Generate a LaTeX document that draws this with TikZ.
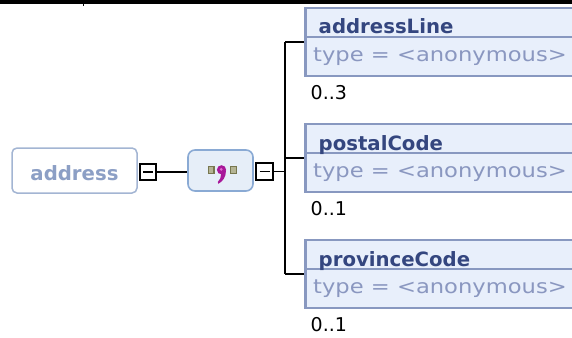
\documentclass[tikz,border=0pt]{standalone}
\usepackage{fontspec}
\setmainfont{DejaVu Sans}
\usepackage{graphicx}
\definecolor{addrborder}{HTML}{A3B5D3}
\definecolor{addrtext}{HTML}{8C9FC5}
\definecolor{seqborder}{HTML}{8AAAD4}
\definecolor{seqfill}{HTML}{E6EEF8}
\definecolor{elemborder}{HTML}{8898C0}
\definecolor{elemfill}{HTML}{E8EFFB}
\definecolor{hdrtext}{HTML}{34467F}
\definecolor{typetext}{HTML}{8A97C0}
\definecolor{olivebd}{HTML}{77774F}
\definecolor{olivefill}{HTML}{B4B494}
\definecolor{seqmag}{HTML}{A8189A}
\definecolor{seqpink}{HTML}{E070D0}
\tikzset{
  conn/.style={draw=black, line width=1.3pt},
  minusbox/.style={draw=black, line width=1.8pt, fill=white, minimum size=16.5pt, inner sep=0pt},
  elembox/.style={draw=elemborder, line width=2.5pt, fill=elemfill, minimum width=290pt, minimum height=68pt, inner sep=0pt, anchor=west},
  divider/.style={draw=elemborder, line width=2pt},
  hdr/.style={font=\fontsize{19.7}{22}\selectfont\bfseries, text=hdrtext, inner sep=0pt, anchor=base west},
  typ/.style={text=typetext, inner sep=0pt, anchor=base west},
  card/.style={font=\fontsize{19}{22}\selectfont, text=black, inner sep=0pt, anchor=base west},
}
\newcommand{\typetxt}{\scalebox{1.16}[1]{\fontsize{19.5}{22}\selectfont type = <anonymous>}}
\begin{document}
\begin{tikzpicture}[x=1pt, y=-1pt]
\useasboundingbox (0,0) rectangle (572,337);
\clip (0,0) rectangle (572,337);
% top bar
\fill[black] (0,0) rectangle (572,4.3);
\draw[black, line width=1pt] (83,3) -- (83,6.5);

% address element
\node[draw=addrborder, line width=1.5pt, rounded corners=5pt, fill=white,
      minimum width=125pt, minimum height=45pt, inner sep=0pt,
      text height=20pt, text depth=0pt,
      font=\fontsize{19.7}{22}\selectfont\bfseries, text=addrtext] (addr) at (74.5,170.5) {address};
\node[minusbox] (m1) at (148,172) {};
\draw[black, line width=1.5pt] ([xshift=-5pt]m1.center) -- ([xshift=5pt]m1.center);

% sequence compositor
\node[draw=seqborder, line width=1.6pt, rounded corners=7pt, fill=seqfill,
      minimum width=65pt, minimum height=41pt, inner sep=0pt] (seq) at (220.5,170.5) {};
\draw[draw=olivebd, fill=olivefill, line width=1.2pt] (208.5,166.5) rectangle (214,173.5);
\draw[draw=olivebd, fill=olivefill, line width=1.2pt] (230.5,166.5) rectangle (236.5,173.5);
\fill[seqmag] (221.5,169.8) circle (4.6);
\fill[seqmag] (226,170.5) .. controls (226,177.5) and (222.5,181.5) .. (218.3,183.8)
   -- (217.8,182) .. controls (220,180) and (221.2,177) .. (221.2,173.5) -- cycle;
\fill[seqpink] (221.2,169.3) circle (1.5);

\node[minusbox] (m2) at (264.5,171.5) {};
\draw[black, line width=1.5pt] ([xshift=-5pt]m2.center) -- ([xshift=5pt]m2.center);

\draw[conn] (m1.east) -- (m1.east -| seq.west);

% bus
\coordinate (b1) at (285,42);
\coordinate (b2) at (285,158);
\coordinate (b3) at (285,274);
\coordinate (bm) at (285,171.5);
\draw[conn] (m2.east) -- (bm);
\draw[conn] (b1) -- (b3);

% element boxes
\node[elembox] (e1) at (304,42) {};
\node[elembox] (e2) at (304,158) {};
\node[elembox] (e3) at (304,274) {};
\foreach \e in {e1,e2,e3}{
  \draw[divider] ([yshift=-30pt]\e.north west) -- ([yshift=-30pt]\e.north east);
}
\draw[conn] (b1) -- (e1.west);
\draw[conn] (b2) -- (e2.west);
\draw[conn] (b3) -- (e3.west);

\node[hdr] (h1) at (318.5,34) {addressLine};
\node[typ] (t1) at (313,61) {\typetxt};
\node[card] (c1) at (310.5,99) {0..3};

\node[hdr] (h2) at (318.5,150) {postalCode};
\node[typ] (t2) at (313,177) {\typetxt};
\node[card] (c2) at (310.5,215) {0..1};

\node[hdr] (h3) at (318.5,266) {provinceCode};
\node[typ] (t3) at (313,293) {\typetxt};
\node[card] (c3) at (310.5,331) {0..1};
\end{tikzpicture}
\end{document}
